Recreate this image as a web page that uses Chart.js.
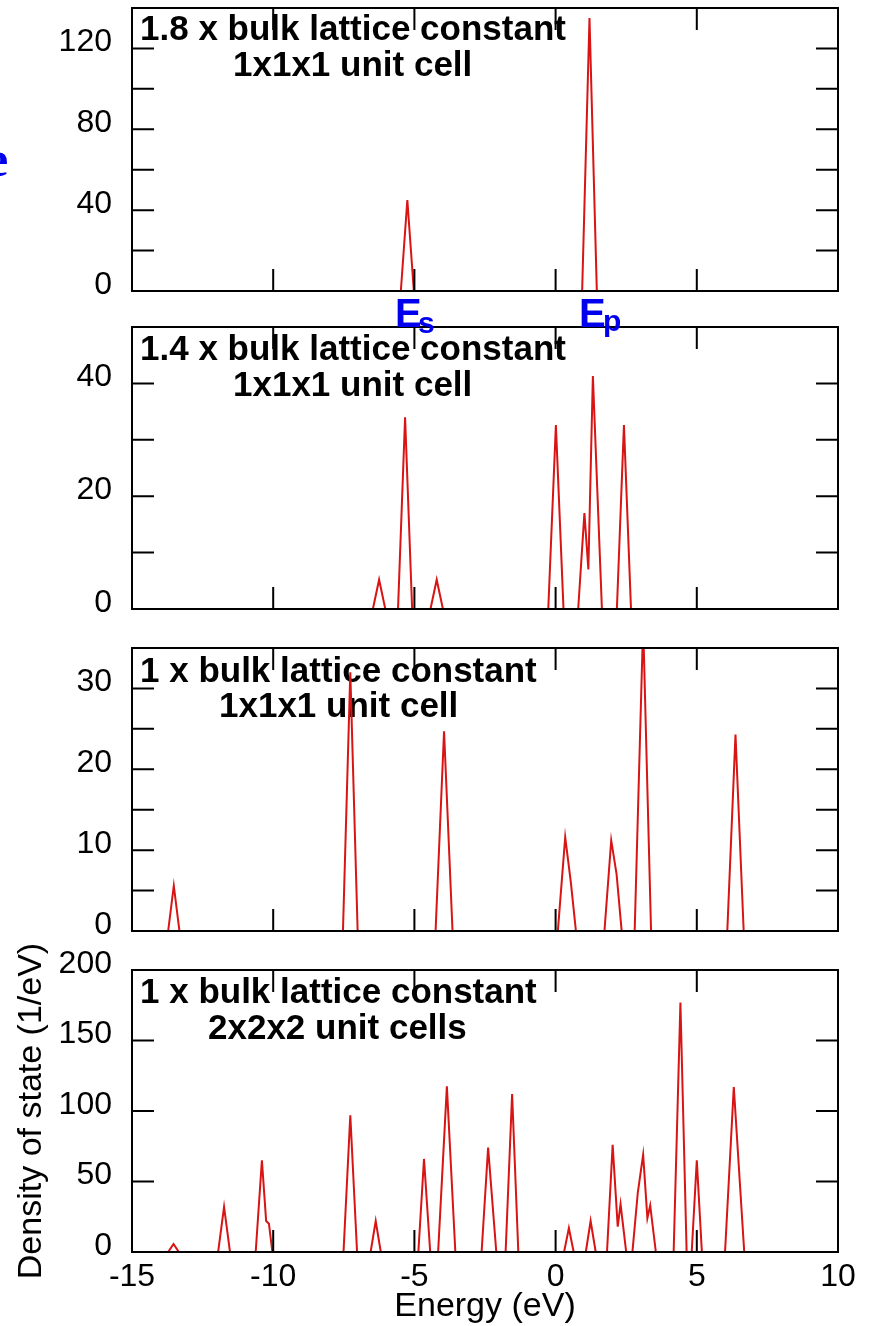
<!DOCTYPE html>
<html>
<head>
<meta charset="utf-8">
<script src="https://cdn.jsdelivr.net/npm/chart.js@4.4.0/dist/chart.umd.min.js"></script>
<style>
  body { margin: 0; background: #fff; width: 871px; height: 1326px; overflow: hidden; position: relative; }
  canvas { position: absolute; left: 0; }
  .blue { position: absolute; color: #0000ee; font-weight: bold; white-space: nowrap; }
  .big { font: bold 40px "Liberation Sans Narrow", "Liberation Sans", Arial, sans-serif; line-height: 40px; }
  .sub { font: bold 30px "Liberation Sans Narrow", "Liberation Sans", Arial, sans-serif; line-height: 30px; }
  .serif { font: bold 50px "Liberation Serif", "DejaVu Serif", serif; line-height: 50px; }
</style>
</head>
<body>
<canvas id="p1"></canvas>
<canvas id="p2"></canvas>
<canvas id="p3"></canvas>
<canvas id="p4"></canvas>

<div class="blue serif" style="left:-14px; top:134px;">e</div>
<div class="blue big" style="left:395px; top:293px;">E</div>
<div class="blue sub" style="left:418px; top:308px;">s</div>
<div class="blue big" style="left:579px; top:293px;">E</div>
<div class="blue sub" style="left:603px; top:306px;">p</div>

<script>
// energy axis (eV)
const energyMin = -15;
const energyMax = 10;
const energyLabels = [-15, -10, -5, 0, 5, 10];
const energyMarks = [-10, -5, 0, 5];

// 1.8 x bulk lattice constant, 1x1x1 unit cell
const energy18 = [-15, -5.48, -5.25, -5.02, 0.94, 1.2, 1.46, 10];
const dos18 = [0, 0, 45, 0, 0, 135, 0, 0];
const yLabels18 = [0, 40, 80, 120];
const yMarks18 = [20, 40, 60, 80, 100, 120];

// 1.4 x bulk lattice constant, 1x1x1 unit cell
const energy14 = [-15, -6.47, -6.25, -6.03, -5.58, -5.33, -5.08, -4.43, -4.21, -3.99,
  -0.26, 0.01, 0.28, 0.80, 1.02, 1.16, 1.32, 1.64, 2.17, 2.42, 2.67, 10];
const dos14 = [0, 0, 5.2, 0, 0, 34, 0, 0, 5.2, 0,
  0, 32.6, 0, 0, 17, 7, 41.3, 0, 0, 32.6, 0, 0];
const yLabels14 = [0, 20, 40];
const yMarks14 = [10, 20, 30, 40];

// 1 x bulk lattice constant, 1x1x1 unit cell
const energy10 = [-15, -13.72, -13.52, -13.32, -7.53, -7.27, -7.01, -4.25, -3.95, -3.65,
  0.08, 0.34, 0.54, 0.72, 1.73, 1.97, 2.16, 2.34, 2.80, 3.10, 3.38, 6.08, 6.37, 6.66, 10];
const dos10 = [0, 0, 5.6, 0, 0, 32, 0, 0, 24.7, 0,
  0, 11.6, 6, 0, 0, 11.2, 7, 0, 0, 38, 0, 0, 24.3, 0, 0];
const yLabels10 = [0, 10, 20, 30];
const yMarks10 = [5, 10, 15, 20, 25, 30];

// 1 x bulk lattice constant, 2x2x2 unit cells
const energy222 = [-15,
  -13.72, -13.53, -13.34,
  -11.95, -11.74, -11.53,
  -10.62, -10.40, -10.25, -10.15, -10.03,
  -7.51, -7.27, -7.03,
  -6.55, -6.37, -6.19,
  -4.86, -4.66, -4.44,
  -4.16, -3.85, -3.55,
  -2.62, -2.39, -2.10,
  -1.77, -1.54, -1.32,
  0.30, 0.47, 0.64,
  1.07, 1.24, 1.42,
  1.82, 2.02, 2.20, 2.30, 2.50,
  2.72, 2.91, 3.10, 3.25, 3.35, 3.55,
  4.18, 4.42, 4.64,
  4.82, 5.00, 5.18,
  6.00, 6.31, 6.68,
  10];
const dos222 = [0,
  0, 5.7, 0,
  0, 32, 0,
  0, 65, 22, 20, 0,
  0, 97, 0,
  0, 22, 0,
  0, 66, 0,
  0, 117.5, 0,
  0, 74, 0,
  0, 112, 0,
  0, 17, 0,
  0, 22, 0,
  0, 76, 18, 34, 0,
  0, 42, 69, 24, 33, 0,
  0, 177, 0,
  0, 65, 0,
  0, 117, 0,
  0];
const yLabels222 = [0, 50, 100, 150, 200];
const yMarks222 = [50, 100, 150];

const RED = '#d81414';
const FONT = '"Liberation Sans", Arial, sans-serif';

// panel captions, frame and inward tick marks
const framePlugin = {
  id: 'frame',
  beforeDatasetsDraw(chart, args, opts) {
    const { ctx, chartArea: a } = chart;
    ctx.save();
    ctx.fillStyle = '#000';
    ctx.font = 'bold 35px ' + FONT;
    ctx.textBaseline = 'alphabetic';
    opts.caption.forEach(c => ctx.fillText(c.text, a.left + c.dx, a.top + c.dy));
    ctx.restore();
  },
  afterDraw(chart, args, opts) {
    const { ctx, chartArea: a, scales: { x, y } } = chart;
    const len = 22;
    ctx.save();
    ctx.strokeStyle = '#000';
    ctx.lineWidth = 2;
    ctx.strokeRect(a.left, a.top, a.right - a.left, a.bottom - a.top);
    ctx.beginPath();
    energyMarks.forEach(v => {
      const px = x.getPixelForValue(v);
      ctx.moveTo(px, a.bottom); ctx.lineTo(px, a.bottom - len);
      ctx.moveTo(px, a.top); ctx.lineTo(px, a.top + len);
    });
    opts.yMarks.forEach(v => {
      const py = y.getPixelForValue(v);
      ctx.moveTo(a.left, py); ctx.lineTo(a.left + len, py);
      ctx.moveTo(a.right, py); ctx.lineTo(a.right - len, py);
    });
    ctx.stroke();
    ctx.restore();
  }
};

function makePanel(cfg) {
  const canvas = document.getElementById(cfg.id);
  canvas.width = 871;
  canvas.height = cfg.height;
  canvas.style.top = cfg.top + 'px';
  const points = cfg.energy.map((e, i) => ({ x: e, y: cfg.dos[i] }));
  return new Chart(canvas.getContext('2d'), {
    type: 'line',
    data: {
      datasets: [{
        data: points,
        borderColor: RED,
        borderWidth: 2,
        pointRadius: 0,
        tension: 0,
        fill: false
      }]
    },
    options: {
      responsive: false,
      animation: false,
      layout: { padding: { top: cfg.padTop, right: 33, left: 0, bottom: cfg.padBottom } },
      plugins: {
        legend: { display: false },
        tooltip: { enabled: false },
        frame: { caption: cfg.caption, yMarks: cfg.yMarks }
      },
      scales: {
        x: {
          type: 'linear',
          min: energyMin,
          max: energyMax,
          display: cfg.showX,
          grid: { display: false, drawTicks: false },
          border: { display: false },
          afterBuildTicks: s => { s.ticks = energyLabels.map(v => ({ value: v })); },
          ticks: { color: '#000', padding: 6, maxRotation: 0, font: { family: FONT, size: 32 } },
          title: {
            display: cfg.showX,
            text: 'Energy (eV)',
            color: '#000',
            font: { family: FONT, size: 34, lineHeight: 1.1 },
            padding: { top: 0, bottom: 1 }
          },
          afterFit: s => {
            s.height = cfg.xHeight;
            s.paddingLeft = 0; s.paddingRight = 0;
          }
        },
        y: {
          min: 0,
          max: cfg.yMax,
          grid: { display: false, drawTicks: false },
          border: { display: false },
          afterBuildTicks: s => { s.ticks = cfg.yLabels.map(v => ({ value: v })); },
          ticks: { color: '#000', padding: 20, labelOffset: -6, font: { family: FONT, size: 32 } },
          title: {
            display: cfg.showYTitle,
            text: 'Density of state (1/eV)',
            color: '#000',
            font: { family: FONT, size: 34, lineHeight: 1.2 },
            padding: { top: 11, bottom: 0 }
          },
          afterFit: s => {
            s.width = 132;
            s.paddingTop = 0; s.paddingBottom = 0;
          }
        }
      }
    },
    plugins: [framePlugin]
  });
}

makePanel({
  id: 'p1', top: 0, height: 300, padTop: 8, padBottom: 9, showX: false, xHeight: 0,
  energy: energy18, dos: dos18, yMax: 140, yLabels: yLabels18, yMarks: yMarks18, showYTitle: false,
  caption: [{ text: '1.8 x bulk lattice constant', dx: 8, dy: 32 }, { text: '1x1x1 unit cell', dx: 101, dy: 68 }]
});
makePanel({
  id: 'p2', top: 310, height: 310, padTop: 17, padBottom: 11, showX: false, xHeight: 0,
  energy: energy14, dos: dos14, yMax: 50, yLabels: yLabels14, yMarks: yMarks14, showYTitle: false,
  caption: [{ text: '1.4 x bulk lattice constant', dx: 8, dy: 33 }, { text: '1x1x1 unit cell', dx: 101, dy: 69 }]
});
makePanel({
  id: 'p3', top: 632, height: 308, padTop: 16, padBottom: 9, showX: false, xHeight: 0,
  energy: energy10, dos: dos10, yMax: 35, yLabels: yLabels10, yMarks: yMarks10, showYTitle: false,
  caption: [{ text: '1 x bulk lattice constant', dx: 8, dy: 34 }, { text: '1x1x1 unit cell', dx: 87, dy: 69 }]
});
makePanel({
  id: 'p4', top: 940, height: 386, padTop: 30, padBottom: 0, showX: true, xHeight: 74,
  energy: energy222, dos: dos222, yMax: 200, yLabels: yLabels222, yMarks: yMarks222, showYTitle: true,
  caption: [{ text: '1 x bulk lattice constant', dx: 8, dy: 33 }, { text: '2x2x2 unit cells', dx: 76, dy: 69 }]
});
</script>
</body>
</html>
